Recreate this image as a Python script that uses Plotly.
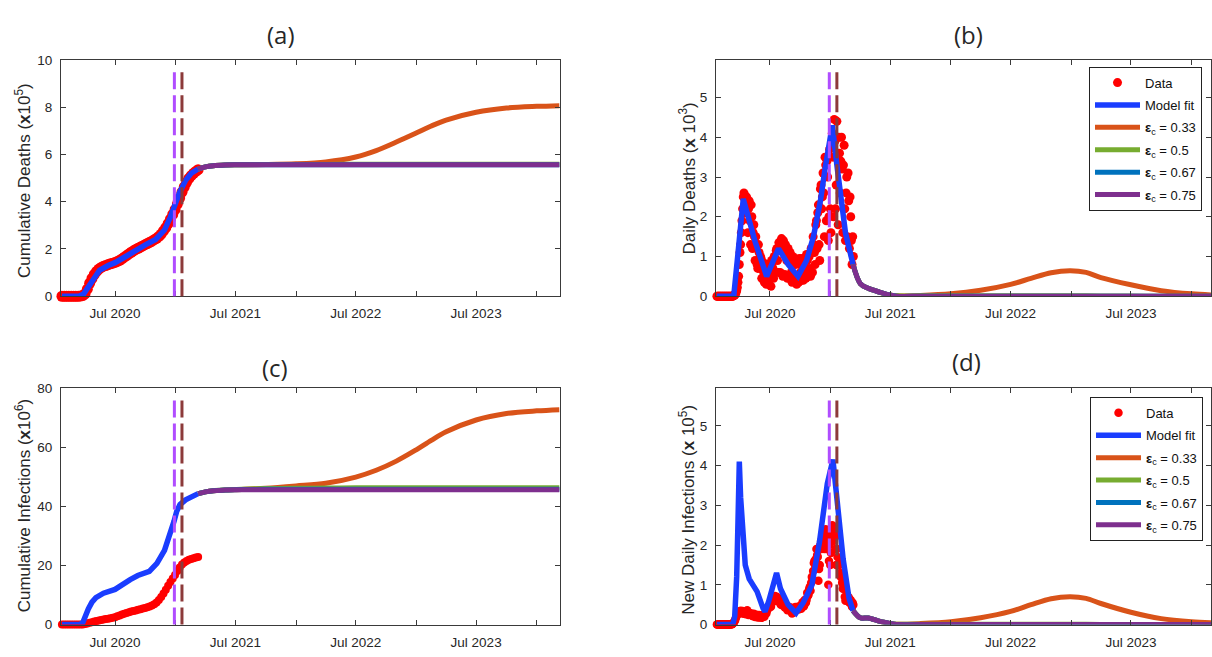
import pandas as pd
import plotly.graph_objects as go

W, H = 1212, 657

# ---------------- observed data ----------------
# daily series sampled every 2 days starting 2020-01-22
data_daily_dates = pd.date_range("2020-01-22", periods=208, freq="2D")
daily_deaths_data = [  # x10^3
    0, 0, 0, 0, 0, 0, 0, 0, 0, 0,
    0, 0, 0, 0, 0, 0, 0, 0, 0, 0,
    0, 0, 0, 0, 0, 0.01, 0.02, 0.03, 0.05, 0.09,
    0.14, 0.22, 0.35, 0.5, 0.8, 1.1, 1.3, 1.6, 1.9, 2.2,
    2.5, 2.6, 2.55, 2.4, 2.1, 2.5, 2.3, 1.6, 2.2, 2.4,
    1.9, 1.3, 2.3, 2.0, 1.2, 1.6, 1.8, 1.5, 0.9, 1.5,
    1.3, 0.8, 0.7, 1.3, 1.1, 0.7, 1.0, 0.95, 0.45, 0.8,
    0.85, 0.6, 0.35, 0.75, 0.65, 0.3, 0.8, 0.7, 0.5, 0.3,
    0.7, 0.6, 0.25, 0.9, 0.85, 0.7, 0.45, 1.0, 0.95, 0.6,
    1.15, 1.2, 0.9, 0.6, 1.35, 1.3, 0.6, 1.2, 1.45, 1.3,
    0.5, 1.4, 1.2, 0.55, 1.3, 1.1, 0.9, 0.45, 1.2, 1.0,
    0.5, 1.1, 0.95, 0.6, 0.35, 1.0, 0.85, 0.5, 0.95, 0.8,
    0.5, 0.3, 0.9, 0.85, 0.35, 0.95, 0.8, 0.6, 0.4, 0.95,
    0.85, 0.4, 0.8, 0.9, 0.6, 0.45, 1.05, 0.9, 0.5, 1.0,
    1.0, 0.7, 0.5, 1.2, 1.1, 0.6, 1.5, 1.3, 1.1, 0.8,
    1.8, 1.9, 1.2, 2.1, 2.3, 1.3, 0.9, 2.7, 2.8, 2.2,
    2.5, 3.1, 2.6, 1.5, 3.5, 3.3, 1.9, 3.4, 3.0, 1.4,
    2.0, 3.7, 2.2, 1.6, 3.8, 4.1, 3.5, 2.0, 4.45, 3.9,
    2.2, 2.8, 4.4, 3.6, 1.8, 4.0, 3.6, 2.6, 3.4, 4.0,
    3.2, 1.6, 3.3, 3.8, 2.2, 1.4, 2.6, 3.0, 1.5, 3.1,
    2.4, 1.2, 2.5, 2.0, 1.4, 0.8, 1.5, 1.0,
]
daily_infections_data = [  # x10^5
    0, 0, 0, 0, 0, 0, 0, 0, 0, 0,
    0, 0, 0, 0, 0, 0, 0, 0, 0, 0,
    0, 0, 0.01, 0.01, 0.02, 0.04, 0.06, 0.09, 0.13, 0.18,
    0.22, 0.26, 0.3, 0.33, 0.28, 0.32, 0.35, 0.3, 0.33, 0.34,
    0.27, 0.29, 0.32, 0.31, 0.26, 0.3, 0.36, 0.28, 0.24, 0.3,
    0.29, 0.24, 0.25, 0.27, 0.22, 0.21, 0.27, 0.24, 0.19, 0.23,
    0.25, 0.2, 0.18, 0.22, 0.24, 0.18, 0.2, 0.23, 0.17, 0.19,
    0.22, 0.24, 0.2, 0.26, 0.3, 0.28, 0.35, 0.4, 0.44, 0.42,
    0.5, 0.55, 0.45, 0.58, 0.62, 0.66, 0.58, 0.68, 0.72, 0.62,
    0.66, 0.7, 0.67, 0.58, 0.64, 0.66, 0.55, 0.5, 0.58, 0.55,
    0.48, 0.53, 0.52, 0.43, 0.45, 0.46, 0.44, 0.36, 0.44, 0.45,
    0.36, 0.42, 0.43, 0.35, 0.28, 0.3, 0.38, 0.35, 0.42, 0.44,
    0.38, 0.4, 0.42, 0.45, 0.38, 0.4, 0.44, 0.48, 0.4, 0.5,
    0.56, 0.48, 0.46, 0.62, 0.6, 0.55, 0.62, 0.8, 0.72, 0.75,
    0.9, 0.95, 0.85, 1.05, 1.2, 1.15, 1.35, 1.55, 1.6, 1.5,
    1.65, 1.9, 1.75, 1.7, 1.1, 1.4, 1.5, 2.0, 2.1, 1.9,
    2.1, 2.3, 2.2, 1.9, 2.3, 2.4, 1.9, 2.0, 2.2, 1.0,
    1.6, 2.0, 1.5, 1.8, 2.3, 2.5, 2.4, 2.1, 2.3, 2.2,
    1.9, 1.5, 1.9, 1.7, 1.5, 1.55, 1.5, 1.3, 1.2, 1.2,
    1.05, 0.9, 0.95, 0.9, 0.7, 0.6, 0.7, 0.72, 0.6, 0.7,
    0.68, 0.55, 0.6, 0.62, 0.55, 0.45, 0.55, 0.5,
]

# cumulative series sampled weekly starting 2020-01-22
data_weekly_dates = pd.date_range("2020-01-22", periods=60, freq="7D")
cum_deaths_data = [  # x10^5
    0, 0, 0, 0, 0, 0, 0, 0, 0.01, 0.03,
    0.1, 0.3, 0.55, 0.75, 0.92,
    1.05, 1.15, 1.22, 1.27, 1.3,
    1.34, 1.37, 1.4, 1.43, 1.47,
    1.52, 1.58, 1.65, 1.72, 1.79,
    1.86, 1.92, 1.98, 2.03, 2.08,
    2.13, 2.18, 2.23, 2.28, 2.33,
    2.39, 2.45, 2.53, 2.63, 2.76,
    2.9, 3.07, 3.26, 3.46, 3.66,
    3.9, 4.15, 4.4, 4.62, 4.82,
    4.98, 5.1, 5.2, 5.28, 5.35,
]
cum_infections_data = [  # x10^6
    0, 0, 0, 0, 0, 0, 0, 0, 0.01, 0.05,
    0.2, 0.4, 0.6, 0.8, 1.0,
    1.2, 1.4, 1.55, 1.7, 1.85,
    2.0, 2.15, 2.3, 2.5, 2.8,
    3.1, 3.4, 3.7, 3.95, 4.2,
    4.4, 4.6, 4.8, 5.0, 5.2,
    5.4, 5.6, 5.85, 6.1, 6.45,
    6.9, 7.5, 8.3, 9.3, 10.5,
    11.8, 13.1, 14.4, 15.6, 16.8,
    18.1, 19.3, 20.3, 21.0, 21.5,
    21.9, 22.2, 22.45, 22.7, 22.9,
]

# ---------------- model fit ----------------
fit_dates_a = ["2020-01-22", "2020-03-14", "2020-03-28", "2020-04-12", "2020-04-26", "2020-05-15",
               "2020-06-10", "2020-07-01", "2020-08-01", "2020-09-01", "2020-10-01", "2020-11-01",
               "2020-11-28", "2020-12-16", "2021-01-01", "2021-01-13", "2021-01-31", "2021-02-17",
               "2021-03-10"]
fit_cum_deaths = [0, 0, 0.1, 0.4, 0.75, 1.1, 1.3, 1.42, 1.67, 1.95, 2.17, 2.4, 2.8, 3.35, 3.95,
                  4.4, 4.9, 5.2, 5.38]

fit_dates_b = ["2020-01-22", "2020-03-13", "2020-03-25", "2020-04-04", "2020-04-11", "2020-05-17",
               "2020-06-21", "2020-07-27", "2020-08-25", "2020-09-24", "2020-10-20", "2020-11-10",
               "2020-12-01", "2020-12-15", "2021-01-06", "2021-01-20", "2021-02-01", "2021-02-15",
               "2021-03-10"]
fit_daily_deaths = [0, 0, 1.0, 2.0, 2.45, 1.37, 0.5, 1.2, 0.8, 0.5, 0.9, 1.5, 2.4, 3.2, 4.3, 3.3,
                    2.4, 1.6, 0.8]

fit_dates_c = ["2020-01-22", "2020-03-15", "2020-03-25", "2020-04-01", "2020-04-11", "2020-04-22",
               "2020-05-04", "2020-05-27", "2020-07-01", "2020-08-16", "2020-09-08", "2020-10-13",
               "2020-11-05", "2020-11-28", "2020-12-16", "2020-12-27", "2021-01-04", "2021-01-14",
               "2021-01-31", "2021-02-18", "2021-03-10"]
fit_cum_infections = [0, 0, 0.6, 2.8, 5.3, 7.6, 9.1, 10.6, 11.9, 15.2, 16.6, 18.0, 20.7, 25.1,
                      30.6, 35.0, 38.3, 40.6, 42.2, 43.3, 44.3]

fit_dates_d = ["2020-01-22", "2020-03-10", "2020-03-16", "2020-03-22", "2020-03-26", "2020-03-30",
               "2020-04-03", "2020-04-08", "2020-04-17", "2020-04-29", "2020-05-23", "2020-06-10",
               "2020-06-16", "2020-06-27", "2020-07-09", "2020-07-21", "2020-08-02", "2020-08-25",
               "2020-09-18", "2020-10-10", "2020-11-05", "2020-11-28", "2020-12-22", "2021-01-08",
               "2021-01-21", "2021-02-08", "2021-02-26", "2021-03-10"]
fit_daily_infections = [0, 0, 0.2, 1.2, 2.6, 4.1, 3.2, 2.4, 1.5, 1.15, 0.83, 0.41, 0.33, 0.58,
                        0.99, 1.3, 0.9, 0.5, 0.29, 0.55, 0.99, 2.07, 3.55, 4.15, 3.1, 1.65, 0.66,
                        0.35]

# ---------------- scenarios ----------------
scen_dates = ["2021-03-10", "2021-04-01", "2021-04-25", "2021-05-31", "2021-06-29", "2021-07-20",
              "2021-10-01", "2022-01-01", "2022-04-01", "2022-07-01", "2022-09-01", "2022-11-01",
              "2022-12-28", "2023-02-15", "2023-04-01", "2023-07-01", "2023-10-01", "2024-01-01",
              "2024-03-10"]
scen_labels = ["0.33", "0.5", "0.67", "0.75"]
scen_colors = ["#D95319", "#77AC30", "#0072BD", "#7E2F8E"]

cum_deaths_e033 = [5.38, 5.47, 5.52, 5.55, 5.56, 5.56, 5.57, 5.6, 5.68, 5.89, 6.16, 6.52, 6.88,
                   7.2, 7.45, 7.78, 7.96, 8.03, 8.06]
cum_deaths_e050 = [5.38, 5.47, 5.52, 5.55, 5.56, 5.565, 5.57, 5.57, 5.575, 5.58, 5.58, 5.58, 5.58,
                   5.58, 5.58, 5.58, 5.58, 5.58, 5.58]
cum_deaths_e067 = [5.38, 5.47, 5.52, 5.55, 5.56, 5.56, 5.56, 5.565, 5.565, 5.565, 5.565, 5.565,
                   5.565, 5.565, 5.565, 5.565, 5.565, 5.565, 5.565]
cum_deaths_e075 = [5.38, 5.47, 5.52, 5.55, 5.56, 5.56, 5.56, 5.56, 5.56, 5.56, 5.56, 5.56, 5.56,
                   5.56, 5.56, 5.56, 5.56, 5.56, 5.56]

daily_deaths_e033 = [0.8, 0.32, 0.2, 0.1, 0.03, 0.01, 0.02, 0.06, 0.15, 0.3, 0.45, 0.59, 0.64,
                     0.6, 0.47, 0.29, 0.14, 0.06, 0.03]
daily_deaths_e050 = [0.8, 0.32, 0.2, 0.1, 0.03, 0.01, 0.01, 0.01, 0.01, 0.01, 0.01, 0.01, 0.01,
                     0.01, 0.005, 0.005, 0, 0, 0]
daily_deaths_e067 = [0.8, 0.32, 0.2, 0.1, 0.03, 0, 0, 0, 0, 0, 0, 0, 0, 0, 0, 0, 0, 0, 0]
daily_deaths_e075 = [0.8, 0.32, 0.2, 0.1, 0.03, 0, 0, 0, 0, 0, 0, 0, 0, 0, 0, 0, 0, 0, 0]

cum_inf_e033 = [44.3, 44.9, 45.3, 45.5, 45.6, 45.7, 46.1, 46.9, 47.8, 49.9, 52.2, 55.3, 58.9,
                62.3, 65.2, 69.2, 71.4, 72.3, 72.7]
cum_inf_e050 = [44.3, 44.9, 45.3, 45.55, 45.7, 45.8, 46.0, 46.1, 46.2, 46.25, 46.3, 46.3, 46.3,
                46.3, 46.3, 46.3, 46.3, 46.3, 46.3]
cum_inf_e067 = [44.3, 44.9, 45.3, 45.5, 45.65, 45.7, 45.75, 45.8, 45.8, 45.8, 45.8, 45.8, 45.8,
                45.8, 45.8, 45.8, 45.8, 45.8, 45.8]
cum_inf_e075 = [44.3, 44.9, 45.3, 45.5, 45.6, 45.6, 45.6, 45.6, 45.6, 45.6, 45.6, 45.6, 45.6,
                45.6, 45.6, 45.6, 45.6, 45.6, 45.6]

daily_inf_e033 = [0.35, 0.17, 0.165, 0.08, 0.03, 0.01, 0.025, 0.07, 0.17, 0.33, 0.5, 0.65, 0.7,
                  0.66, 0.53, 0.31, 0.15, 0.07, 0.04]
daily_inf_e050 = [0.35, 0.17, 0.165, 0.08, 0.03, 0.01, 0.01, 0.01, 0.01, 0.01, 0.01, 0.01, 0.01,
                  0.01, 0.005, 0.005, 0, 0, 0]
daily_inf_e067 = [0.35, 0.17, 0.165, 0.08, 0.03, 0, 0, 0, 0, 0, 0, 0, 0, 0, 0, 0, 0, 0, 0]
daily_inf_e075 = [0.35, 0.17, 0.165, 0.08, 0.03, 0, 0, 0, 0, 0, 0, 0, 0, 0, 0, 0, 0, 0, 0]

# vertical reference dates
vline_dates = ["2020-12-28", "2021-01-20"]
vline_colors = ["#B04DFF", "#8C3A3A"]

# axis ticks
tick_dates = ["2020-07-01", "2021-01-01", "2021-07-01", "2022-01-01", "2022-07-01", "2023-01-01",
              "2023-07-01", "2024-01-01"]
tick_text = ["Jul 2020", "", "Jul 2021", "", "Jul 2022", "", "Jul 2023", ""]

# ---------------- figure ----------------
FONT = "Liberation Sans, Arial, sans-serif"
AX = "#3a3a3a"
TXT = "#262626"


def px_x(p):
    return p / W


def px_y(p):
    return 1 - p / H


def xstyle(domain, rng, anchor):
    return dict(domain=domain, anchor=anchor, type="date", range=rng,
                tickmode="array", tickvals=tick_dates, ticktext=tick_text,
                ticks="inside", ticklen=5, tickwidth=1, tickcolor=AX,
                showline=True, linecolor=AX, linewidth=1, mirror="ticks",
                showgrid=False, zeroline=False, ticklabelstandoff=5,
                tickfont=dict(family=FONT, size=13.5, color=TXT))


def ystyle(domain, rng, tickvals, anchor):
    return dict(domain=domain, anchor=anchor, range=rng, tickmode="array", tickvals=tickvals,
                ticks="inside", ticklen=5, tickwidth=1, tickcolor=AX,
                showline=True, linecolor=AX, linewidth=1, mirror="ticks",
                showgrid=False, zeroline=False, ticklabelstandoff=5,
                tickfont=dict(family=FONT, size=13.5, color=TXT))


top_dom = [px_y(296), px_y(54)]
bot_dom = [px_y(632), px_y(390)]
left_dom = [px_x(61), px_x(560)]
right_dom = [px_x(716.5), 1.0]
left_rng = ["2020-01-19", "2024-03-10"]
right_rng = ["2020-01-19", "2024-02-29"]

fig = go.Figure()

panels = [
    ("x", "y", None, data_weekly_dates, cum_deaths_data, 11, fit_dates_a, fit_cum_deaths,
     [cum_deaths_e033, cum_deaths_e050, cum_deaths_e067, cum_deaths_e075]),
    ("x2", "y2", "legend", data_daily_dates, daily_deaths_data, 9, fit_dates_b, fit_daily_deaths,
     [daily_deaths_e033, daily_deaths_e050, daily_deaths_e067, daily_deaths_e075]),
    ("x3", "y3", None, data_weekly_dates, cum_infections_data, 8, fit_dates_c, fit_cum_infections,
     [cum_inf_e033, cum_inf_e050, cum_inf_e067, cum_inf_e075]),
    ("x4", "y4", "legend2", data_daily_dates, daily_infections_data, 8.5, fit_dates_d,
     fit_daily_infections,
     [daily_inf_e033, daily_inf_e050, daily_inf_e067, daily_inf_e075]),
]

for xa, ya, leg, ddates, dvals, msize, fdates, fvals, scens in panels:
    show = leg is not None

    def lg(tag):
        return dict(legend=leg, legendgroup=f"{leg}_{tag}") if show else {}

    fig.add_trace(go.Scatter(x=ddates, y=dvals, mode="markers", name="Data",
                             marker=dict(color="#FF0000", size=msize, line=dict(width=0)),
                             xaxis=xa, yaxis=ya, showlegend=show, cliponaxis=False, **lg("data")))
    fig.add_trace(go.Scatter(x=fdates, y=fvals, mode="lines", name="Model fit",
                             line=dict(color="#1A3DFF", width=5.5),
                             xaxis=xa, yaxis=ya, showlegend=show, cliponaxis=False, **lg("fit")))
    for lab, col, vals in zip(scen_labels, scen_colors, scens):
        fig.add_trace(go.Scatter(x=scen_dates, y=vals, mode="lines",
                                 name="<b>ε</b><sub>c</sub> = " + lab,
                                 line=dict(color=col, width=5, shape="spline", smoothing=0.9),
                                 xaxis=xa, yaxis=ya, showlegend=show, **lg(lab)))

shapes = []
for xa, ya in [("x", "y"), ("x2", "y2"), ("x3", "y3"), ("x4", "y4")]:
    for d, c in zip(vline_dates, vline_colors):
        shapes.append(dict(type="line", xref=xa, yref=ya + " domain", x0=d, x1=d, y0=0, y1=0.963,
                           line=dict(color=c, width=3, dash="17px,6px"), layer="above"))

annotations = []
for txt, x, y in [("(a)", 281, 28), ("(b)", 969, 28), ("(c)", 275, 369), ("(d)", 967, 363)]:
    annotations.append(dict(text=txt, x=px_x(x), y=px_y(y), xref="paper", yref="paper",
                            xanchor="center", yanchor="middle", showarrow=False,
                            font=dict(family="Open Sans, Noto Sans, sans-serif", size=24,
                                      color=TXT)))
for txt, x, y in [("Cumulative Deaths (<b>x</b>10<sup>5</sup>)", 23, 177),
                  ("Daily Deaths (<b>x</b> 10<sup>3</sup>)", 688, 175),
                  ("Cumulative Infections (<b>x</b>10<sup>6</sup>)", 23, 510),
                  ("New Daily Infections (<b>x</b> 10<sup>5</sup>)", 688, 514)]:
    annotations.append(dict(text=txt, x=px_x(x), y=px_y(y), xref="paper", yref="paper",
                            xanchor="center", yanchor="middle", showarrow=False, textangle=-90,
                            font=dict(family=FONT, size=17, color=TXT)))

legend_style = dict(xanchor="right", yanchor="top", bgcolor="white", bordercolor="#222222",
                    borderwidth=1, font=dict(family=FONT, size=13, color="#111111"),
                    itemwidth=45, tracegroupgap=2.5)

fig.update_layout(
    width=W, height=H, margin=dict(l=0, r=0, t=0, b=0),
    paper_bgcolor="white", plot_bgcolor="white",
    xaxis=xstyle(left_dom, left_rng, "y"),
    yaxis=ystyle(top_dom, [0, 10], [0, 2, 4, 6, 8, 10], "x"),
    xaxis2=xstyle(right_dom, right_rng, "y2"),
    yaxis2=ystyle(top_dom, [0, 5.95], [0, 1, 2, 3, 4, 5], "x2"),
    xaxis3=xstyle(left_dom, left_rng, "y3"),
    yaxis3=ystyle(bot_dom, [0, 80], [0, 20, 40, 60, 80], "x3"),
    xaxis4=xstyle(right_dom, right_rng, "y4"),
    yaxis4=ystyle(bot_dom, [0, 5.95], [0, 1, 2, 3, 4, 5], "x4"),
    legend=dict(x=px_x(1203), y=px_y(61), **legend_style),
    legend2=dict(x=px_x(1204), y=px_y(399), **legend_style),
    shapes=shapes, annotations=annotations, showlegend=True,
)

fig.write_html("out.html", config={"displayModeBar": False},
               post_script="document.body.style.margin='0px';document.body.style.overflow='hidden';")
